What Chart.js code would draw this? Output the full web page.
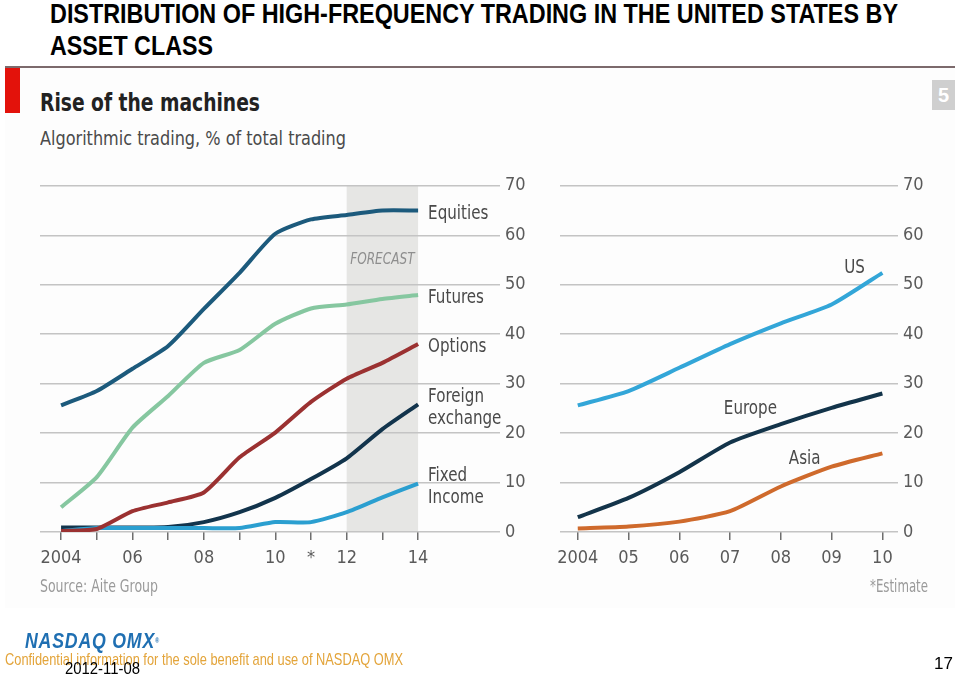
<!DOCTYPE html>
<html>
<head>
<meta charset="utf-8">
<script src="https://cdn.jsdelivr.net/npm/chart.js@4"></script>
<style>
  body { margin: 0; width: 960px; height: 674px; background: #fff; position: relative; overflow: hidden; font-family: "Liberation Sans", Arial, sans-serif; }
  .abs { position: absolute; white-space: nowrap; transform-origin: 0 0; }
  .cond { font-family: "DejaVu Sans Condensed", "Liberation Sans Narrow", "Liberation Sans", sans-serif; }
  #panel { position: absolute; left: 5px; top: 66px; width: 950px; height: 540px; background: #fdfdfd; border-top: 2px solid #7c6a6c; }
  canvas { position: absolute; }
</style>
</head>
<body>
<div class="abs fit" data-w="848" style="left:50px;top:-2px;font-weight:bold;font-size:28px;line-height:32px;color:#000;">DISTRIBUTION OF HIGH-FREQUENCY TRADING IN THE UNITED STATES BY</div>
<div class="abs fit" data-w="163" style="left:50px;top:30px;font-weight:bold;font-size:28px;line-height:32px;color:#000;">ASSET CLASS</div>

<div id="panel"></div>
<div class="abs" style="left:5px;top:68px;width:15px;height:45px;background:#e3120b;"></div>
<div class="abs" style="left:932px;top:80px;width:23px;height:30px;background:#cfcfcf;color:#fff;font-weight:bold;font-size:20px;line-height:30px;text-align:center;">5</div>
<div class="abs cond fit" data-w="220" style="left:40px;top:88px;font-weight:bold;font-size:24px;line-height:30px;color:#222;">Rise of the machines</div>
<div class="abs cond fit" data-w="306" style="left:40px;top:126px;font-size:19px;line-height:24px;color:#4a4a4a;">Algorithmic trading, % of total trading</div>

<canvas id="left" width="540" height="410" style="left:0;top:170px;width:540px;height:410px;"></canvas>
<canvas id="right" width="420" height="410" style="left:540px;top:170px;width:420px;height:410px;"></canvas>

<div class="abs cond fit" data-w="118" style="left:40px;top:575px;font-size:17px;line-height:22px;color:#9a9a9a;">Source: Aite Group</div>
<div class="abs cond fit" data-w="58" style="left:870px;top:575px;font-size:17px;line-height:22px;color:#9a9a9a;">*Estimate</div>

<div class="abs fit" data-w="135" style="left:25px;top:629px;font-weight:900;font-style:italic;font-size:22px;line-height:24px;color:#1f6fb2;letter-spacing:1px;">NASDAQ OMX<span style="font-size:7px;vertical-align:top;">®</span></div>
<div class="abs fit" data-w="398" style="left:5px;top:650px;font-size:17px;line-height:20px;color:#e3a43a;">Confidential information for the sole benefit and use of NASDAQ OMX</div>
<div class="abs fit" data-w="75" style="left:65px;top:659px;font-size:16px;line-height:19px;color:#000;">2012-11-08</div>
<div class="abs" style="left:934px;top:654px;font-size:17px;line-height:19px;color:#000;">17</div>

<script>
// left panel: asset classes, 2004-2014 (2012-2014 forecast)
const assetYears = [2004, 2005, 2006, 2007, 2008, 2009, 2010, 2011, 2012, 2013, 2014];
const assetTickLabels = ['2004', '', '06', '', '08', '', '10', '*', '12', '', '14'];
const equities = [25.6, 28.5, 33.0, 37.6, 45.1, 52.4, 60.3, 63.2, 64.1, 65.0, 65.0];
const futures = [5.0, 11.1, 21.1, 27.5, 34.2, 36.8, 42.1, 45.2, 46.0, 47.1, 47.9];
const options = [0.2, 0.6, 4.2, 6.0, 8.0, 15.1, 20.1, 26.3, 31.0, 34.2, 38.0];
const foreignExchange = [0.9, 0.9, 0.9, 1.0, 2.0, 4.0, 6.9, 10.7, 14.9, 20.8, 25.8];
const fixedIncome = [0.2, 0.8, 0.8, 0.8, 0.8, 0.8, 2.0, 2.0, 4.0, 7.0, 9.8];

// right panel: regions, 2004-2010
const regionYears = [2004, 2005, 2006, 2007, 2008, 2009, 2010];
const regionTickLabels = ['2004', '05', '06', '07', '08', '09', '10'];
const us = [25.6, 28.5, 33.2, 38.0, 42.2, 46.0, 52.4];
const europe = [3.0, 6.9, 12.1, 18.1, 21.8, 25.1, 28.0];
const asia = [0.7, 1.1, 2.1, 4.2, 9.2, 13.2, 15.9];

const yTicks = [0, 10, 20, 30, 40, 50, 60, 70];

// fit text blocks to the reference widths
document.querySelectorAll('.fit').forEach(el => {
  const w = el.getBoundingClientRect().width;
  const target = +el.dataset.w;
  if (w > 0) el.style.transform = 'scaleX(' + (target / w) + ')';
});

const condFont = '"DejaVu Sans Condensed", "Liberation Sans Narrow", "Liberation Sans", sans-serif';
Chart.defaults.font.family = condFont;

const pts = (xs, ys) => xs.map((x, i) => ({ x: x, y: ys[i] }));

function line(label, xs, ys, color, endLabel) {
  return {
    label: label,
    data: pts(xs, ys),
    borderColor: color,
    borderWidth: 4,
    pointRadius: 0,
    tension: 0.2,
    borderJoinStyle: 'round',
    borderCapStyle: 'butt',
    endLabel: endLabel
  };
}

function scalesFor(xs, tickLabels, xMin, xMax, yWidth) {
  return {
    x: {
      type: 'linear',
      min: xMin,
      max: xMax,
      afterBuildTicks: s => { s.ticks = xs.map(v => ({ value: v })); },
      afterFit: s => { s.height = 48; },
      border: { display: false },
      grid: { drawOnChartArea: false, drawTicks: true, tickLength: 8, color: '#6e6e6e', lineWidth: 1.5 },
      ticks: {
        autoSkip: false,
        maxRotation: 0,
        padding: 8,
        color: '#5a5a5a',
        font: { size: 18 },
        callback: (v, i) => tickLabels[i]
      }
    },
    y: {
      position: 'right',
      min: 0,
      max: 70,
      afterBuildTicks: s => { s.ticks = yTicks.map(v => ({ value: v })); },
      afterFit: s => { s.width = yWidth; },
      border: { display: false },
      grid: { color: '#c4c4c4', lineWidth: 1.5, tickLength: 8 },
      ticks: { padding: 5, color: '#5a5a5a', font: { size: 18 } }
    }
  };
}

// draw text squeezed horizontally, like the narrow print face
function narrowText(ctx, text, x, y, align) {
  const sq = 0.84;
  const w = ctx.measureText(text).width * sq;
  const left = align === 'center' ? x - w / 2 : x;
  ctx.save();
  ctx.translate(left, y);
  ctx.scale(sq, 1);
  ctx.textAlign = 'left';
  ctx.fillText(text, 0, 0);
  ctx.restore();
}

// shaded forecast band + text labels
const decorPlugin = {
  id: 'decor',
  beforeDraw(chart, args, opts) {
    if (!opts.band) return;
    const { ctx, chartArea, scales } = chart;
    const x0 = scales.x.getPixelForValue(opts.band[0]);
    const x1 = scales.x.getPixelForValue(opts.band[1]);
    ctx.save();
    ctx.fillStyle = '#e6e6e4';
    ctx.fillRect(x0, chartArea.top, x1 - x0, chartArea.bottom - chartArea.top);
    ctx.fillStyle = '#8e8e8e';
    ctx.font = 'italic 16px ' + condFont;
    ctx.textBaseline = 'middle';
    narrowText(ctx, opts.bandText, (x0 + x1) / 2, scales.y.getPixelForValue(55), 'center');
    ctx.restore();
  },
  afterDatasetsDraw(chart, args, opts) {
    const { ctx, scales } = chart;
    ctx.save();
    ctx.fillStyle = '#4a4a4a';
    ctx.font = '20px ' + condFont;
    ctx.textBaseline = 'middle';
    chart.data.datasets.forEach(ds => {
      if (!ds.endLabel) return;
      const last = ds.data[ds.data.length - 1];
      const x = scales.x.getPixelForValue(last.x) + 10;
      const y = scales.y.getPixelForValue(last.y) + 3;
      const lines = ds.endLabel;
      lines.forEach((t, i) => narrowText(ctx, t, x, y + (i - (lines.length - 1) / 2) * 22, 'left'));
    });
    (opts.floating || []).forEach(l => {
      narrowText(ctx, l.text, scales.x.getPixelForValue(l.x), scales.y.getPixelForValue(l.y), 'center');
    });
    ctx.restore();
  }
};

new Chart(document.getElementById('left'), {
  type: 'line',
  data: {
    datasets: [
      line('Equities', assetYears, equities, '#1c5a7c', ['Equities']),
      line('Futures', assetYears, futures, '#86c7a0', ['Futures']),
      line('Options', assetYears, options, '#9b3131', ['Options']),
      line('Fixed income', assetYears, fixedIncome, '#2b9fd0', ['Fixed', 'Income']),
      line('Foreign exchange', assetYears, foreignExchange, '#12344c', ['Foreign', 'exchange'])
    ]
  },
  options: {
    responsive: false,
    animation: false,
    layout: { padding: { left: 40, top: 13, right: 0, bottom: 0 } },
    plugins: {
      legend: { display: false },
      tooltip: { enabled: false },
      decor: { band: [2012, 2014], bandText: 'FORECAST' }
    },
    scales: scalesFor(assetYears, assetTickLabels, 2003.41, 2016.07, 48)
  },
  plugins: [decorPlugin]
});

new Chart(document.getElementById('right'), {
  type: 'line',
  data: {
    datasets: [
      line('US', regionYears, us, '#33a6d8'),
      line('Europe', regionYears, europe, '#13344a'),
      line('Asia', regionYears, asia, '#cf6a2c')
    ]
  },
  options: {
    responsive: false,
    animation: false,
    layout: { padding: { left: 20, top: 13, right: 0, bottom: 0 } },
    plugins: {
      legend: { display: false },
      tooltip: { enabled: false },
      decor: {
        floating: [
          { text: 'US', x: 2009.45, y: 53.5 },
          { text: 'Europe', x: 2007.4, y: 25 },
          { text: 'Asia', x: 2008.47, y: 14.8 }
        ]
      }
    },
    scales: scalesFor(regionYears, regionTickLabels, 2003.65, 2010.15, 70)
  },
  plugins: [decorPlugin]
});
</script>
</body>
</html>
